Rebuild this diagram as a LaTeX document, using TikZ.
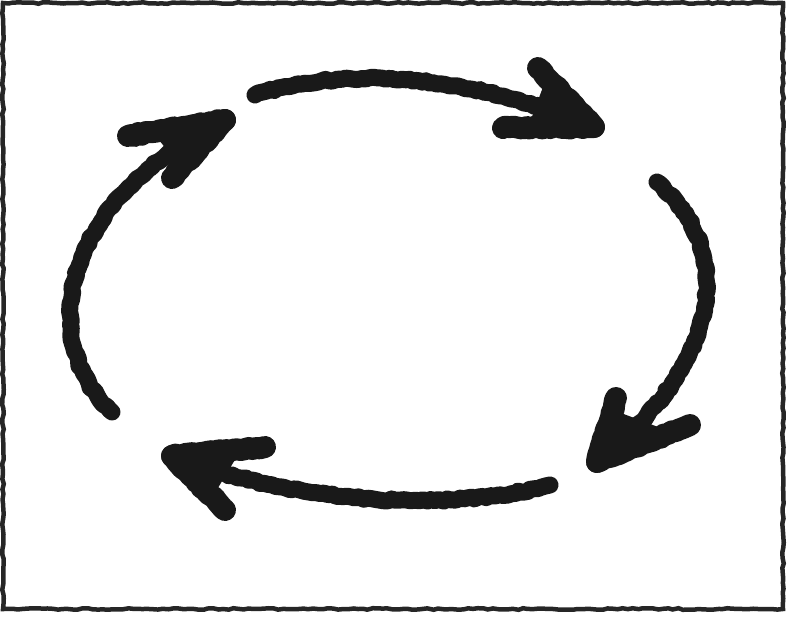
\documentclass[tikz,border=0pt]{standalone}
\usetikzlibrary{decorations.pathmorphing}
\begin{document}
\begin{tikzpicture}[x=1pt,y=-1pt,
  chalk/.style={draw=black!90, line width=17pt, line cap=round, line join=round,
    decorate, decoration={random steps, segment length=4pt, amplitude=1.2pt}},
  barb/.style={chalk, line width=22pt},
  headfill/.style={fill=black!90, draw=black!90, line width=8pt, line join=round},
  frame/.style={draw=black!85, line width=4.5pt, decorate, decoration={random steps, segment length=5pt, amplitude=0.8pt}}]
\useasboundingbox (0,0) rectangle (795,640);
\draw[frame] (3,3) -- (783,3) -- (783,609) -- (3,609) -- cycle;
% top arrow
\coordinate (t1) at (255,95);
\coordinate (t2) at (594,127);
\draw[chalk] (t1) .. controls (350,65) and (470,75) .. (t2);
\draw[barb] (t2) -- (538,68);
\draw[barb] (t2) -- (503,128);
\fill[headfill] (t2) -- (548,85) -- (535,120) -- cycle;
% right arrow
\coordinate (r1) at (657,182);
\coordinate (r2) at (597,462);
\draw[chalk] (r1) .. controls (735,250) and (725,360) .. (r2);
\draw[barb] (r2) -- (616,398);
\draw[barb] (r2) -- (690,425);
\fill[headfill] (r2) -- (615,415) -- (660,432) -- cycle;
% bottom arrow
\coordinate (b1) at (550,485);
\coordinate (b2) at (172,456);
\draw[chalk] (b1) .. controls (450,512) and (300,505) .. (b2);
\draw[barb] (b2) -- (265,447);
\draw[barb] (b2) -- (225,510);
\fill[headfill] (b2) -- (235,452) -- (212,490) -- cycle;
% left arrow
\coordinate (l1) at (112,412);
\coordinate (l2) at (225,120);
\draw[chalk] (l1) .. controls (35,340) and (60,200) .. (l2);
\draw[barb] (l2) -- (128,136);
\draw[barb] (l2) -- (172,178);
\fill[headfill] (l2) -- (160,135) -- (182,162) -- cycle;
\end{tikzpicture}
\end{document}
